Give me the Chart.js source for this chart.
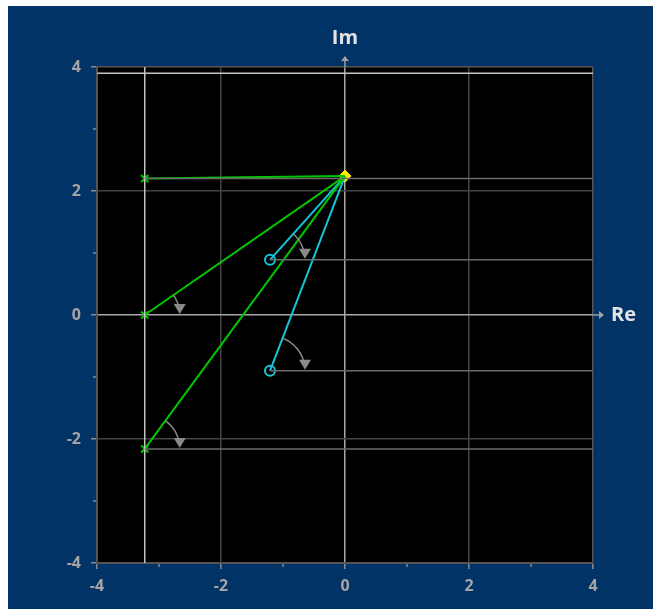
<!DOCTYPE html>
<html>
<head>
<meta charset="utf-8">
<script src="https://cdn.jsdelivr.net/npm/chart.js@4"></script>
<style>
  html, body { margin: 0; padding: 0; background: #fff; }
  #wrap { width: 653px; height: 609px; }
</style>
</head>
<body>
<div id="wrap"><canvas id="plane" width="653" height="609"></canvas></div>
<script>
// pole / zero locations
const poleRe = [-3.23, -3.23, -3.23];
const poleIm = [2.2, 0.0, -2.16];
const zeroRe = [-1.21, -1.21];
const zeroIm = [0.89, -0.9];
const testRe = [0];
const testIm = [2.24];
// light boundary lines
const boundRe = [-3.23];
const boundIm = [3.9];
const axisMin = -4;
const axisMax = 4;
const tickLabels = [-4, -2, 0, 2, 4];

const GREEN = '#00c800';
const CYAN = '#14c6d6';
const REF = '#6a6a6a';

function seg(a, b, color, width) {
    return {
        type: 'scatter', showLine: true, data: [a, b],
        borderColor: color, borderWidth: width, pointRadius: 0, fill: false
    };
}

const datasets = [];
// horizontal reference lines for angle measurement
poleRe.forEach((re, i) => {
    if (poleIm[i] !== 0) datasets.push(seg({x: re, y: poleIm[i]}, {x: axisMax, y: poleIm[i]}, REF, 1.5));
});
zeroRe.forEach((re, i) => datasets.push(seg({x: re, y: zeroIm[i]}, {x: axisMax, y: zeroIm[i]}, REF, 1.5)));
// boundary lines
boundRe.forEach(re => datasets.push(seg({x: re, y: axisMin}, {x: re, y: axisMax}, '#c4c4c4', 1.5)));
boundIm.forEach(im => datasets.push(seg({x: axisMin, y: im}, {x: axisMax, y: im}, '#c4c4c4', 1.5)));
// vectors to test point
const tp = {x: testRe[0], y: testIm[0]};
poleRe.forEach((re, i) => datasets.push(seg({x: re, y: poleIm[i]}, tp, GREEN, 2)));
zeroRe.forEach((re, i) => datasets.push(seg({x: re, y: zeroIm[i]}, tp, CYAN, 2)));
// markers
datasets.push({
    type: 'scatter', data: poleRe.map((re, i) => ({x: re, y: poleIm[i]})),
    pointStyle: 'crossRot', pointRadius: 5, borderColor: GREEN, borderWidth: 2
});
datasets.push({
    type: 'scatter', data: zeroRe.map((re, i) => ({x: re, y: zeroIm[i]})),
    pointStyle: 'circle', pointRadius: 5, borderColor: CYAN, backgroundColor: 'rgba(0,0,0,0)', borderWidth: 2
});
datasets.push({
    type: 'scatter', data: [tp],
    pointStyle: 'rectRot', pointRadius: 6, borderColor: '#ffe600', backgroundColor: '#ffee00', borderWidth: 1
});

const planePlugin = {
    id: 'plane',
    beforeDraw(chart) {
        const {ctx, chartArea: a, width, height} = chart;
        ctx.save();
        ctx.fillStyle = '#fff';
        ctx.fillRect(0, 0, width, height);
        ctx.fillStyle = '#013366';
        ctx.fillRect(8, 6, width - 8, height - 6);
        ctx.fillStyle = '#000';
        ctx.fillRect(a.left, a.top, a.right - a.left, a.bottom - a.top);
        ctx.restore();
    },
    afterDraw(chart) {
        const {ctx, scales: {x, y}, chartArea: a} = chart;
        // short minor ticks at odd values
        ctx.save();
        ctx.strokeStyle = '#8a8a8a';
        ctx.lineWidth = 1.5;
        ctx.beginPath();
        for (let v = axisMin + 1; v < axisMax; v += 2) {
            const px = x.getPixelForValue(v), py = y.getPixelForValue(v);
            ctx.moveTo(px, a.bottom + 1); ctx.lineTo(px, a.bottom + 4);
            ctx.moveTo(a.left - 1, py); ctx.lineTo(a.left - 4, py);
        }
        ctx.stroke();
        ctx.restore();
    },
    afterDatasetsDraw(chart) {
        const {ctx, scales: {x, y}, chartArea: a} = chart;
        const x0 = x.getPixelForValue(0), y0 = y.getPixelForValue(0);
        ctx.save();
        // axis arrows beyond the plot
        ctx.strokeStyle = '#a0a0a0';
        ctx.fillStyle = '#a0a0a0';
        ctx.lineWidth = 1.5;
        ctx.beginPath();
        ctx.moveTo(x0, a.top); ctx.lineTo(x0, a.top - 8);
        ctx.moveTo(a.right, y0); ctx.lineTo(a.right + 8, y0);
        ctx.stroke();
        ctx.beginPath();
        ctx.moveTo(x0 - 4, a.top - 6); ctx.lineTo(x0, a.top - 11); ctx.lineTo(x0 + 4, a.top - 6);
        ctx.closePath(); ctx.fill();
        ctx.beginPath();
        ctx.moveTo(a.right + 6, y0 - 4); ctx.lineTo(a.right + 11, y0); ctx.lineTo(a.right + 6, y0 + 4);
        ctx.closePath(); ctx.fill();

        ctx.fillStyle = '#e4e4e4';
        ctx.font = 'bold 20px "Open Sans"';
        ctx.textAlign = 'center';
        ctx.textBaseline = 'middle';
        ctx.fillText('Im', x0, 38);
        ctx.textAlign = 'left';
        ctx.fillText('Re', a.right + 18, y0);

        // angle arcs
        const pts = poleRe.map((re, i) => [re, poleIm[i]]).concat(zeroRe.map((re, i) => [re, zeroIm[i]]));
        const tx = x.getPixelForValue(tp.x), ty = y.getPixelForValue(tp.y);
        const r = 35;
        ctx.strokeStyle = '#8a8a8a';
        ctx.fillStyle = '#8a8a8a';
        ctx.lineWidth = 1.5;
        pts.forEach(([re, im]) => {
            const cx = x.getPixelForValue(re), cy = y.getPixelForValue(im);
            const ang = Math.atan2(ty - cy, tx - cx);
            if (Math.abs(ang) < 0.1) return;
            ctx.beginPath();
            ctx.arc(cx, cy, r, ang, -0.12);
            ctx.stroke();
            const ax = cx + r, ay = cy;
            ctx.beginPath();
            ctx.moveTo(ax - 6, ay - 11); ctx.lineTo(ax + 6, ay - 11); ctx.lineTo(ax, ay - 1);
            ctx.closePath(); ctx.fill();
        });
        ctx.restore();
    }
};

function isMinor(c) {
    return c.tick && Math.abs(c.tick.value) % 2 === 1;
}

function gridColor(c) {
    const v = c.tick ? c.tick.value : null;
    if (v === 0) return '#a8a8a8';
    if (v === axisMin || v === axisMax) return '#555';
    return isMinor(c) ? 'rgba(0,0,0,0)' : '#444';
}

function axisCfg(isY) {
    return {
        type: 'linear', min: axisMin, max: axisMax,
        afterBuildTicks: s => { s.ticks = []; for (let v = axisMin; v <= axisMax; v++) s.ticks.push({value: v}); },
        afterFit: s => { if (isY) s.width = 97; else s.height = 46; },
        grid: {
            color: gridColor, lineWidth: 1.5,
            tickColor: c => (isMinor(c) ? 'rgba(0,0,0,0)' : '#8a8a8a'), tickLength: 6, drawTicks: true
        },
        border: {color: '#555', width: 2},
        ticks: {
            autoSkip: false, padding: isY ? 10 : 8, color: '#a4a4a4',
            font: {family: 'Open Sans', size: 16, weight: 'bold'},
            callback: v => (tickLabels.includes(v) ? String(v) : '')
        }
    };
}

new Chart(document.getElementById('plane'), {
    type: 'scatter',
    data: {datasets},
    options: {
        responsive: false,
        animation: false,
        layout: {padding: {top: 67, right: 60, left: 0, bottom: 0}},
        plugins: {legend: {display: false}, tooltip: {enabled: false}},
        scales: {x: axisCfg(false), y: axisCfg(true)}
    },
    plugins: [planePlugin]
});
</script>
</body>
</html>
